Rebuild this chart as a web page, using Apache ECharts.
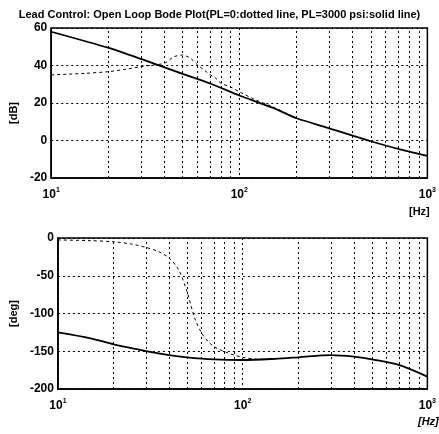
<!DOCTYPE html>
<html>
<head>
<meta charset="utf-8">
<script src="https://cdn.jsdelivr.net/npm/echarts@6/dist/echarts.min.js"></script>
<style>
html,body{margin:0;padding:0;background:#fff;}
#c{width:439px;height:434px;}
</style>
</head>
<body>
<div id="c"></div>
<script>
// ---- data ----
var titleText = 'Lead Control: Open Loop Bode Plot(PL=0:dotted line, PL=3000 psi:solid line)';

var magSolidFreq = [10, 20, 30, 40, 50, 70, 100, 150, 200, 300, 400, 500, 700, 1000];
var magSolidDb   = [58, 49.5, 43.5, 39, 35.5, 30.4, 24, 17.5, 12, 6.5, 2.6, -0.4, -4.5, -8.2];

var magDotFreq = [10, 15, 20, 25, 30, 35, 40, 45, 50, 55, 60, 65, 70, 75, 80, 90, 100, 120, 150, 200];
var magDotDb   = [35, 35.8, 36.7, 38, 39.4, 40.3, 41.2, 44.7, 45.6, 43.8, 40.3, 37.6, 35, 33.2, 30.5, 28.5, 26, 22, 18, 12];

var phSolidFreq = [10, 15, 20, 30, 40, 50, 70, 100, 150, 200, 300, 400, 500, 700, 1000];
var phSolidDeg  = [-125, -132.8, -140.8, -149.7, -155, -158, -160.7, -161.6, -160, -158, -155, -157, -160.7, -168, -183.6];

var phDotFreq = [10, 15, 20, 25, 30, 35, 40, 45, 50, 55, 60, 65, 70, 80, 90, 100, 120, 150];
var phDotDeg  = [-2.5, -3.5, -5, -8, -12.5, -18, -26.5, -42, -71, -106, -126, -137, -144, -150.6, -155, -158, -160.5, -160];

var minorFreqs = [20, 30, 40, 50, 60, 70, 80, 90, 200, 300, 400, 500, 600, 700, 800, 900];
var magTicks = {min: -20, max: 60, interval: 20};
var phTicks = {min: -200, max: 0, interval: 50};

function pairs(xs, ys) { return xs.map(function (x, i) { return [x, ys[i]]; }); }

var FONT = '"Liberation Sans Narrow", "Liberation Sans", Arial, sans-serif';
var dashGrid = {color: '#000', width: 1, type: [2, 3]};

function xAxisCfg(gi) {
  return {
    type: 'log', logBase: 10, gridIndex: gi, min: 10, max: 1000,
    axisLine: {show: true, onZero: false, lineStyle: {color: '#000', width: 1.5}},
    axisTick: {show: false},
    splitLine: {show: true, lineStyle: dashGrid},
    minorSplitLine: {show: false},
    axisLabel: {
      margin: 9,
      formatter: function (v) { return '{b|10}{s|' + Math.round(Math.log10(v)) + '}'; },
      rich: {
        b: {fontFamily: FONT, fontWeight: 'bold', fontSize: 12, color: '#000'},
        s: {fontFamily: FONT, fontWeight: 'bold', fontSize: 7, color: '#000', padding: [0, 0, 9, 0]}
      }
    }
  };
}
function yAxisCfg(gi, t, name, gap, pad) {
  return {
    type: 'value', gridIndex: gi, min: t.min, max: t.max, interval: t.interval,
    name: name, nameLocation: 'middle', nameRotate: 90, nameGap: gap,
    nameTextStyle: {fontFamily: FONT, fontWeight: 'bold', fontSize: 11, color: '#000', padding: pad},
    axisLine: {show: true, lineStyle: {color: '#000', width: 1.5}},
    axisTick: {show: false},
    splitLine: {show: true, lineStyle: dashGrid},
    axisLabel: {margin: 4, fontFamily: FONT, fontWeight: 'bold', fontSize: 12, color: '#000'}
  };
}
function minorLines() {
  return {
    silent: true, symbol: 'none', label: {show: false},
    lineStyle: {color: '#000', width: 1, type: [2, 3]},
    data: minorFreqs.map(function (f) { return {xAxis: f}; })
  };
}

var chart = echarts.init(document.getElementById('c'), null, {renderer: 'canvas'});
chart.setOption({
  animation: false,
  backgroundColor: '#fff',
  title: {
    text: titleText, left: 'center', top: 4,
    textStyle: {fontFamily: FONT, fontWeight: 'bold', fontSize: 11, color: '#000'}
  },
  grid: [
    {left: 45, top: 28, right: 10, height: 150, show: true, borderColor: '#000', borderWidth: 1.5},
    {left: 48, top: 238, right: 8, height: 151, show: true, borderColor: '#000', borderWidth: 1.5}
  ],
  xAxis: [xAxisCfg(0), xAxisCfg(1)],
  yAxis: [yAxisCfg(0, magTicks, '[dB]', 27, [0, 20, 0, 0]), yAxisCfg(1, phTicks, '[deg]', 33, 0)],
  graphic: [
    {type: 'text', left: 409, top: 206, style: {text: '[Hz]', font: 'bold 11px ' + FONT, fill: '#000'}},
    {type: 'text', left: 418, top: 416, style: {text: '[Hz]', font: 'italic bold 11px ' + FONT, fill: '#000'}}
  ],
  series: [
    {type: 'line', xAxisIndex: 0, yAxisIndex: 0, data: pairs(magSolidFreq, magSolidDb), smooth: 0.2,
     symbol: 'none', lineStyle: {color: '#000', width: 1.8}, markLine: minorLines()},
    {type: 'line', xAxisIndex: 0, yAxisIndex: 0, data: pairs(magDotFreq, magDotDb), smooth: 0.3,
     symbol: 'none', lineStyle: {color: '#000', width: 1, type: [3, 3]}},
    {type: 'line', xAxisIndex: 1, yAxisIndex: 1, data: pairs(phSolidFreq, phSolidDeg), smooth: 0.3,
     symbol: 'none', lineStyle: {color: '#000', width: 1.8}, markLine: minorLines()},
    {type: 'line', xAxisIndex: 1, yAxisIndex: 1, data: pairs(phDotFreq, phDotDeg), smooth: 0.3,
     symbol: 'none', lineStyle: {color: '#000', width: 1, type: [3, 3]}}
  ]
});
</script>
</body>
</html>
